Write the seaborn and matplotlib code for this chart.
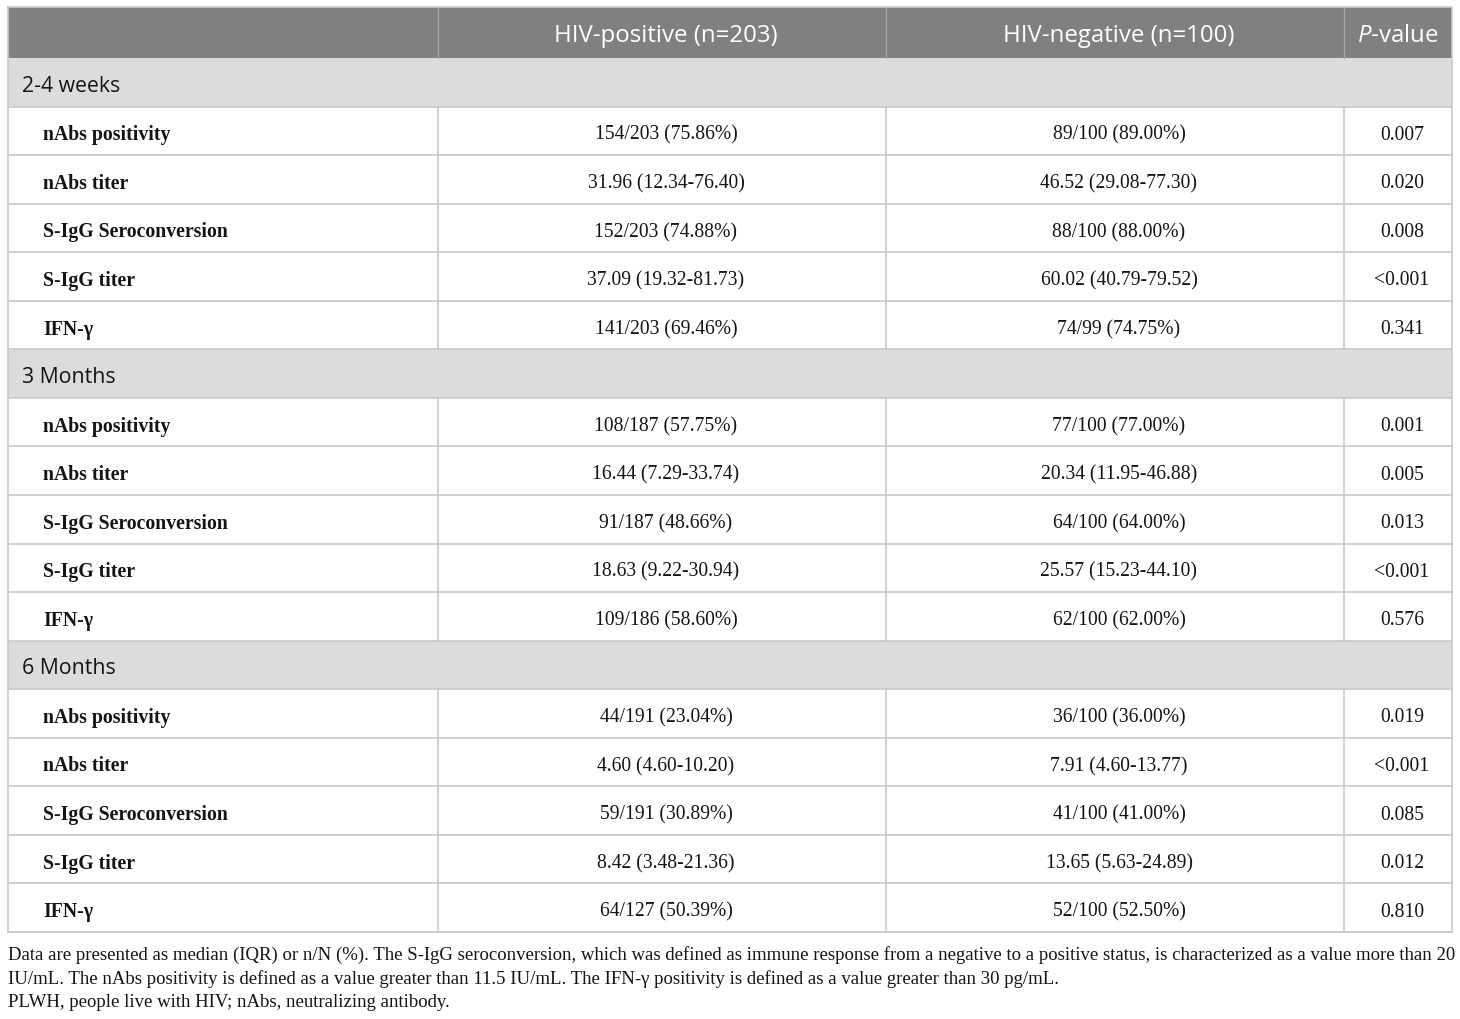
import matplotlib
matplotlib.use("Agg")
import matplotlib.pyplot as plt
import seaborn as sns
from matplotlib.patches import Rectangle

# ---------------- data ----------------
col_headers = ["", "HIV-positive (n=203)", "HIV-negative (n=100)", "$\\it{P}$-value"]
periods = ["2-4 weeks", "3 Months", "6 Months"]
measures = ["nAbs positivity", "nAbs titer", "S-IgG Seroconversion", "S-IgG titer", "IFN-γ"]
hiv_pos = [
    ["154/203 (75.86%)", "31.96 (12.34-76.40)", "152/203 (74.88%)", "37.09 (19.32-81.73)", "141/203 (69.46%)"],
    ["108/187 (57.75%)", "16.44 (7.29-33.74)", "91/187 (48.66%)", "18.63 (9.22-30.94)", "109/186 (58.60%)"],
    ["44/191 (23.04%)", "4.60 (4.60-10.20)", "59/191 (30.89%)", "8.42 (3.48-21.36)", "64/127 (50.39%)"],
]
hiv_neg = [
    ["89/100 (89.00%)", "46.52 (29.08-77.30)", "88/100 (88.00%)", "60.02 (40.79-79.52)", "74/99 (74.75%)"],
    ["77/100 (77.00%)", "20.34 (11.95-46.88)", "64/100 (64.00%)", "25.57 (15.23-44.10)", "62/100 (62.00%)"],
    ["36/100 (36.00%)", "7.91 (4.60-13.77)", "41/100 (41.00%)", "13.65 (5.63-24.89)", "52/100 (52.50%)"],
]
p_values = [
    ["0.007", "0.020", "0.008", "<0.001", "0.341"],
    ["0.001", "0.005", "0.013", "<0.001", "0.576"],
    ["0.019", "<0.001", "0.085", "0.012", "0.810"],
]
footnote = [
    "Data are presented as median (IQR) or n/N (%). The S-IgG seroconversion, which was defined as immune response from a negative to a positive status, is characterized as a value more than 20",
    "IU/mL. The nAbs positivity is defined as a value greater than 11.5 IU/mL. The IFN-γ positivity is defined as a value greater than 30 pg/mL.",
    "PLWH, people live with HIV; nAbs, neutralizing antibody.",
]

# ---------------- style ----------------
sns.set_theme(style="white")
plt.rcParams["font.family"] = ["Liberation Serif", "DejaVu Serif"]
plt.rcParams["mathtext.fontset"] = "custom"
plt.rcParams["mathtext.it"] = "Open Sans:italic"
plt.rcParams["mathtext.rm"] = "Open Sans"

W, H = 1460, 1020
fig = plt.figure(figsize=(W / 100, H / 100), dpi=100)
ax = fig.add_axes([0, 0, 1, 1])
ax.set_xlim(0, W)
ax.set_ylim(H, 0)
ax.axis("off")

# layout (pixels)
left, right = 7.5, 1452
col_edges = [left, 438, 886, 1344, right]
pad_shift = 4
header_shift = [0, 4, 4, 0]
top = 8
header_h = 51
row_h = 48.55
line_c = "#c9c9c9"
header_bg = "#808080"
section_bg = "#dcdcdc"
txt_c = "#141414"

header_bottom = top + header_h
ax.add_patch(Rectangle((left, top), right - left, header_h, facecolor=header_bg, edgecolor="none"))
for i in range(1, 4):
    ax.plot([col_edges[i]] * 2, [top, header_bottom], color="#a8a8a8", lw=1)

hfs = 17.3
sfs = 15.3
for i in range(1, 4):
    cx = (col_edges[i] + col_edges[i + 1]) / 2 + header_shift[i]
    ax.text(cx, top + header_h / 2 + 2.5, col_headers[i], ha="center", va="center",
            color="white", fontsize=hfs, family="Open Sans")

y = header_bottom
vfs = 14.1
lfs = 14.2
for p, period in enumerate(periods):
    ax.add_patch(Rectangle((left, y), right - left, row_h, facecolor=section_bg, edgecolor="none"))
    ax.text(22, y + row_h / 2 + 3, period, ha="left", va="center", fontsize=sfs,
            family="Open Sans", color=txt_c)
    ax.plot([left, right], [y + row_h] * 2, color=line_c, lw=1.2)
    y += row_h
    for m, meas in enumerate(measures):
        yc = y + row_h / 2 + 3.5
        ax.text(43, yc, meas, ha="left", va="center", fontsize=lfs, fontweight="bold", color=txt_c)
        vals = [hiv_pos[p][m], hiv_neg[p][m], p_values[p][m]]
        for k, v in enumerate(vals):
            cx = (col_edges[k + 1] + col_edges[k + 2]) / 2 + pad_shift
            ax.text(cx, yc, v, ha="center", va="center", fontsize=vfs, color=txt_c)
        for i in range(1, 4):
            ax.plot([col_edges[i]] * 2, [y, y + row_h], color=line_c, lw=1.2)
        ax.plot([left, right], [y + row_h] * 2, color=line_c, lw=1.2)
        y += row_h

bottom = y
# outer border
ax.plot([left, right, right, left, left], [top, top, bottom, bottom, top], color=line_c, lw=1.2)

# footnote
ffs = 13.48
for j, line in enumerate(footnote):
    ax.text(left, 955 + 24 * j, line, ha="left", va="center", fontsize=ffs, color=txt_c)

fig.savefig("out.png", dpi=100)
